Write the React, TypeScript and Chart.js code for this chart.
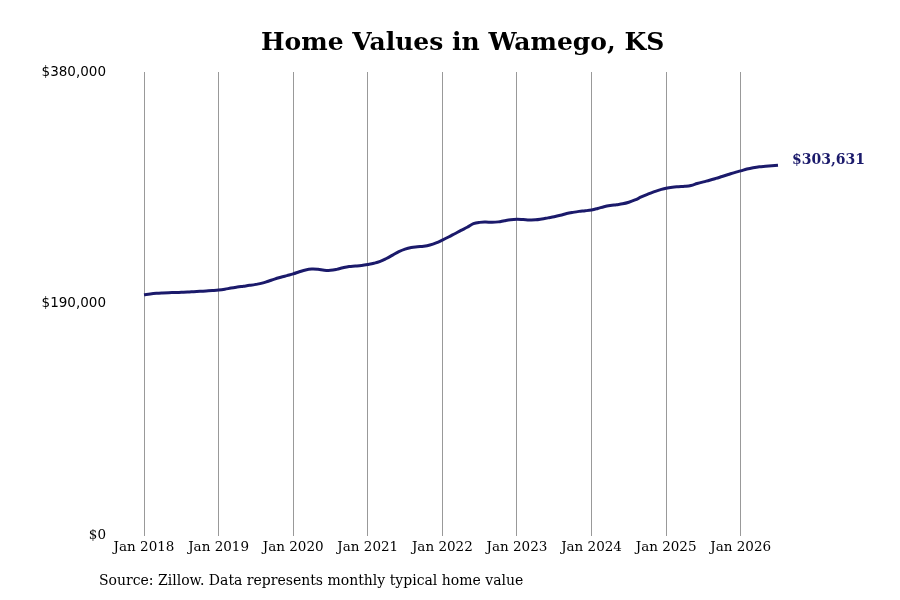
import React, { useEffect, useRef } from 'react';
import { Chart, registerables } from 'chart.js';

Chart.register(...registerables);

const monthNames = ['Jan', 'Feb', 'Mar', 'Apr', 'May', 'Jun', 'Jul', 'Aug', 'Sep', 'Oct', 'Nov', 'Dec'];
const years = [2018, 2019, 2020, 2021, 2022, 2023, 2024, 2025, 2026];
const lastMonthIndex = 6; // Jul 2026

// monthly typical home value, Jan 2018 - Jul 2026
const homeValues = [
    197500, 198200, 198700, 199000, 199200, 199300, 199500, 199700, 200000, 200300, 200600, 200900,
    201300, 202000, 203000, 203800, 204500, 205200, 206000, 207000, 208600, 210300, 211800, 213200,
    214600, 216300, 217800, 218500, 218300, 217600, 217500, 218300, 219600, 220600, 221000, 221500,
    222300, 223300, 224800, 227200, 230000, 232800, 234900, 236200, 236800, 237300, 238300, 240000,
    242300, 244800, 247500, 250200, 252800, 255700, 256800, 257000, 256800, 257200, 258200, 259000,
    259300, 259100, 258800, 258900, 259600, 260500, 261400, 262600, 264000, 265000, 265800, 266300,
    267000, 268200, 269600, 270600, 271300, 272000, 273300, 275200, 277600, 279800, 281800, 283400,
    284800, 285600, 286000, 286300, 287000, 288600, 290000, 291300, 292800, 294400, 296000, 297600,
    299000, 300500, 301600, 302400, 302800, 303200, 303631,
];

const yTicks = [0, 190000, 380000];

const monthLabels: string[] = [];
years.forEach((year, yi) => {
    monthNames.forEach((m, mi) => {
        if (yi === years.length - 1 && mi > lastMonthIndex) return;
        monthLabels.push(`${m} ${year}`);
    });
});

const navy = '#1b1a6b';

const endLabelPlugin = {
    id: 'endLabel',
    afterDatasetsDraw(chart: any) {
        const meta = chart.getDatasetMeta(0);
        const last = meta.data[meta.data.length - 1];
        if (!last) return;
        const value = homeValues[homeValues.length - 1];
        const ctx = chart.ctx;
        ctx.save();
        ctx.font = 'bold 14px "DejaVu Serif"';
        ctx.fillStyle = navy;
        ctx.textAlign = 'left';
        ctx.textBaseline = 'middle';
        ctx.fillText('$' + value.toLocaleString('en-US'), last.x + 14, last.y - 5);
        ctx.restore();
    },
};

const HomeValuesChart = () => {
    const chartRef = useRef<HTMLCanvasElement | null>(null);

    useEffect(() => {
        if (!chartRef.current) {
            return;
        }
        const ctx = chartRef.current.getContext('2d');
        if (!ctx) {
            return;
        }

        const chart = new Chart(ctx, {
            type: 'line',
            data: {
                labels: monthLabels,
                datasets: [{
                    label: 'Home value',
                    data: homeValues,
                    borderColor: navy,
                    borderWidth: 3,
                    pointRadius: 0,
                    tension: 0.4,
                    fill: false,
                }],
            },
            options: {
                animation: false,
                responsive: false,
                layout: {
                    padding: { left: 20, right: 122, top: 72, bottom: 40 },
                },
                plugins: {
                    legend: { display: false },
                    tooltip: { enabled: false },
                },
                scales: {
                    x: {
                        type: 'category',
                        offset: false,
                        border: { display: false },
                        grid: {
                            color: '#999',
                            lineWidth: 1,
                            drawTicks: false,
                        },
                        ticks: {
                            autoSkip: false,
                            maxRotation: 0,
                            padding: 4,
                            color: '#000',
                            font: { family: '"DejaVu Serif"', size: 13.5 },
                            callback: function (this: any, value: any, index: number) {
                                return index % 12 === 0 ? this.getLabelForValue(value) : null;
                            },
                        },
                    },
                    y: {
                        min: 0,
                        max: 380000,
                        afterBuildTicks: (scale: any) => {
                            scale.ticks = yTicks.map((v) => ({ value: v }));
                        },
                        afterFit: (scale: any) => {
                            scale.width = 124;
                        },
                        border: { display: false },
                        grid: { display: false, drawTicks: false },
                        ticks: {
                            padding: 38,
                            color: '#000',
                            font: (c: any) => (c.tick && c.tick.value === 0
                                ? { family: '"DejaVu Serif"', size: 13.5 }
                                : { family: '"DejaVu Sans"', size: 13.5 }),
                            callback: (value: any) => '$' + Number(value).toLocaleString('en-US'),
                        },
                    },
                },
            },
            plugins: [endLabelPlugin],
        });

        return () => {
            chart.destroy();
        };
    }, []);

    return <canvas ref={chartRef} width={900} height={600} />;
};

const App = () => {
    useEffect(() => {
        document.body.style.margin = '0';
    }, []);

    return (
        <div style={{ position: 'relative', width: 900, height: 600, background: '#fff' }}>
            <HomeValuesChart />
            <div
                style={{
                    position: 'absolute',
                    left: 261,
                    width: 400,
                    top: 26,
                    textAlign: 'center',
                    fontFamily: '"DejaVu Serif"',
                    fontWeight: 'bold',
                    fontSize: 25,
                    lineHeight: '32px',
                    color: '#000',
                    whiteSpace: 'nowrap',
                }}
            >
                Home Values in Wamego, KS
            </div>
            <div
                style={{
                    position: 'absolute',
                    left: 99,
                    top: 572,
                    fontFamily: '"DejaVu Serif"',
                    fontSize: 14,
                    color: '#000',
                    whiteSpace: 'nowrap',
                }}
            >
                Source: Zillow. Data represents monthly typical home value
            </div>
        </div>
    );
};

export default App;
